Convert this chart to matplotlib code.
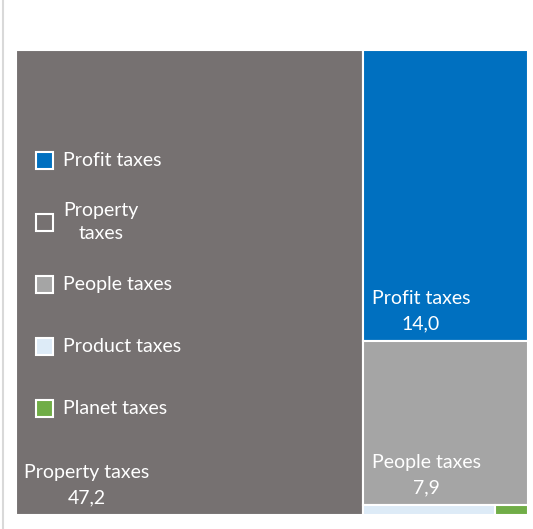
import matplotlib.pyplot as plt
from matplotlib.patches import Rectangle
from matplotlib.lines import Line2D

# tax categories and values (bn)
labels = ['Property taxes', 'Profit taxes', 'People taxes', 'Product taxes', 'Planet taxes']
values = [47.2, 14.0, 7.9, 0.4, 0.1]
colors = ['#767171', '#0070C0', '#A5A5A5', '#DDEBF7', '#70AD47']

legend_order = ['Profit taxes', 'Property\ntaxes', 'People taxes', 'Product taxes', 'Planet taxes']
legend_colors = ['#0070C0', '#767171', '#A5A5A5', '#DDEBF7', '#70AD47']

plt.rcParams['font.family'] = ['Lato', 'DejaVu Sans']

fig = plt.figure(figsize=(5.33, 5.29), dpi=100)
W, H = 533, 529
ax = fig.add_axes([16 / W, (H - 515) / H, 512 / W, 465 / H])
ax.set_xlim(0, 1)
ax.set_ylim(0, 1)
ax.axis('off')

# thin frame line on the left of the chart area
fig.add_artist(Line2D([3 / W, 3 / W], [0, 1], transform=fig.transFigure,
                      color='#D9D9D9', lw=1.5))

#treemap layout: big block on the left, the rest stacked on the right
total = sum(values)
wl = values[0] / total
right = values[1:]
rtot = sum(right)
h_profit = right[0] / rtot
h_people = right[1] / rtot
h_bottom = (right[2] + right[3]) / rtot
w_product = right[2] / (right[2] + right[3])

rects = [
    (0, 0, wl, 1),
    (wl, 1 - h_profit, 1 - wl, h_profit),
    (wl, h_bottom, 1 - wl, h_people),
    (wl, 0, (1 - wl) * w_product, h_bottom),
    (wl + (1 - wl) * w_product, 0, (1 - wl) * (1 - w_product), h_bottom),
]

for (x, y, w, h), c in zip(rects, colors):
    ax.add_patch(Rectangle((x, y), w, h, facecolor=c, edgecolor='white', lw=1.5))

#data labels in the bottom left corner of the three big blocks
for i in range(3):
    x, y, w, h = rects[i]
    txt = labels[i] + '\n' + ('%.1f' % values[i]).replace('.', ',')
    ax.annotate(txt, (x, y), xytext=(6, 6), textcoords='offset points',
                ha='left', va='bottom', multialignment='center',
                color='white', fontsize=14, linespacing=1.6)

#legend drawn inside the property block
sq_w = 17 / 512
sq_h = 17 / 465
for i, (lab, c) in enumerate(zip(legend_order, legend_colors)):
    yc = 0.763 - i * 0.1333
    ax.add_patch(Rectangle((0.0558 - sq_w / 2, yc - sq_h / 2), sq_w, sq_h,
                           facecolor=c, edgecolor='white', lw=1.5))
    ax.text(0.0920, yc, lab, ha='left', va='center', multialignment='center',
            color='white', fontsize=14, linespacing=1.4)

fig.savefig('out.png', dpi=100)
